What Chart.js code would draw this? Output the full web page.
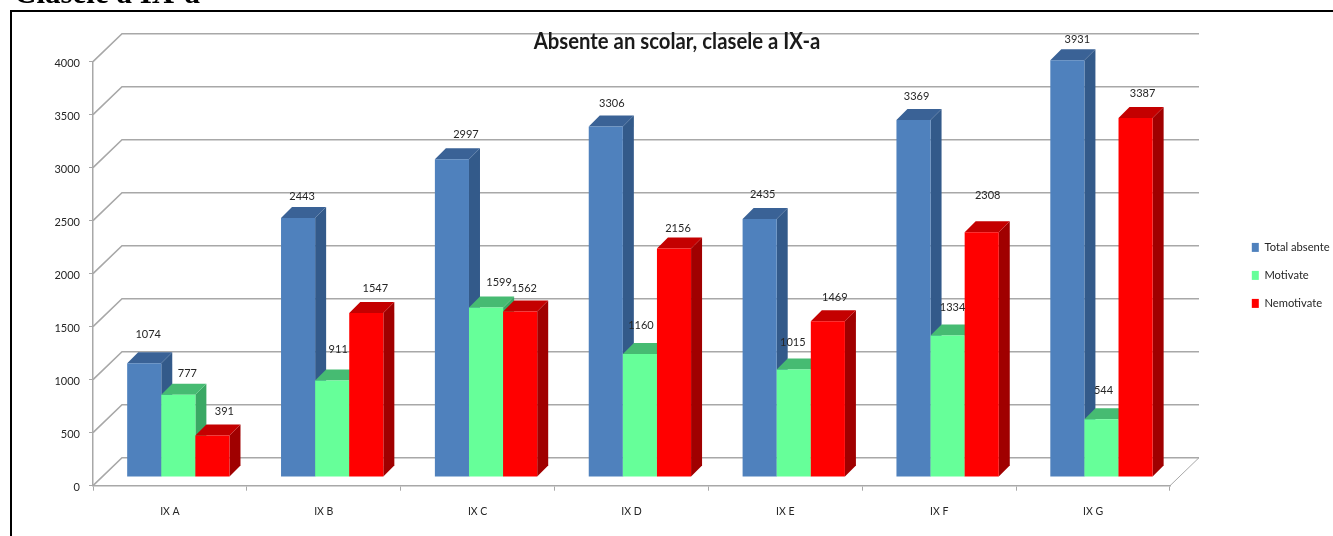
<!DOCTYPE html>
<html>
<head>
<meta charset="utf-8">
<title>Absente an scolar</title>
<script src="https://cdn.jsdelivr.net/npm/chart.js@4/dist/chart.umd.min.js"></script>
<style>
    html, body { margin: 0; padding: 0; background: #fff; overflow: hidden; }
    #page { position: relative; width: 1333px; height: 536px; overflow: hidden; }
    #heading {
        position: absolute; left: 14px; top: -25px; white-space: nowrap;
        font: bold 31px "Liberation Serif", serif; color: #000;
    }
    #frame { position: absolute; left: 10px; top: 10px; width: 1400px; height: 600px; border: 2px solid #000; }
    #chart { position: absolute; left: 0; top: 0; }
</style>
</head>
<body>
<div id="page">
    <canvas id="chart" width="1333" height="536"></canvas>
    <div id="frame"></div>
    <div id="heading">Clasele a IX-a</div>
</div>
<script>
// Values
const categories = ['IX A', 'IX B', 'IX C', 'IX D', 'IX E', 'IX F', 'IX G'];
const totalAbsente = [1074, 2443, 2997, 3306, 2435, 3369, 3931];
const motivate = [777, 911, 1599, 1160, 1015, 1334, 544];
const nemotivate = [391, 1547, 1562, 2156, 1469, 2308, 3387];
const yTicks = [0, 500, 1000, 1500, 2000, 2500, 3000, 3500, 4000];

// Hand placed value labels, relative to the top of each bar
const labelDx = [
    [4, 4, 14, 6, 3, 3, 10],
    [9, 6, 13, 1, -1, 5, 2],
    [12, 9, 4, 4, 7, 6, 7]
];
const labelDy = [
    [-29, -22, -25, -23, -24, -23, -21],
    [-21, -31, -25, -29, -27, -28, -29],
    [-24, -25, -23, -20, -24, -37, -25]
];

const FONT = 'Lato, sans-serif';
const TEXT = '#262626';
const GRID = '#a8a8a8';

// 3D look: bars stand a bit inside the floor, the wall is further back
const wallX = 29, wallY = 28;
const barShiftX = 8.4, barShiftY = 8.7;
const barDepth = 11;

// no narrow font installed, so the title is squeezed to the original width
const titleCenter = 677;
const titleSqueeze = 0.883;

const faces = [
    { front: '#4f81bd', side: '#335a8a', top: '#3a6296' },
    { front: '#66ff99', side: '#3aa864', top: '#46bb72' },
    { front: '#ff0000', side: '#a00000', top: '#c40000' }
];

function poly(ctx, color, pts) {
    ctx.fillStyle = color;
    ctx.beginPath();
    pts.forEach((p, i) => i ? ctx.lineTo(p[0], p[1]) : ctx.moveTo(p[0], p[1]));
    ctx.closePath();
    ctx.fill();
}

const depthPlugin = {
    id: 'depth',
    afterLayout(chart) {
        // legend sits right of the floor, title is centred over the plot and not the page
        const legend = chart.legend;
        legend.left = 1235; legend.right = 1333;
        legend.top = 225; legend.bottom = 345;

        const title = chart.titleBlock;
        const ctx = chart.ctx;
        const drawTitle = title.draw;
        title.left = titleCenter - 500;
        title.right = titleCenter + 500;
        title.draw = function () {
            ctx.save();
            ctx.translate(titleCenter, 0);
            ctx.scale(titleSqueeze, 1);
            ctx.translate(-titleCenter, 0);
            drawTitle.call(title);
            ctx.restore();
        };
    },
    beforeDraw(chart) {
        const { ctx, chartArea, scales } = chart;

        // wall and floor lines, behind the title and the bars
        ctx.save();
        ctx.strokeStyle = GRID;
        ctx.lineWidth = 1.6;
        yTicks.forEach(v => {
            const y = scales.y.getPixelForValue(v);
            ctx.beginPath();
            ctx.moveTo(chartArea.left, y);
            ctx.lineTo(chartArea.left + wallX, y - wallY);
            ctx.lineTo(chartArea.right + wallX, y - wallY);
            ctx.stroke();
        });
        ctx.lineWidth = 1;
        ctx.beginPath();
        ctx.moveTo(chartArea.right, chartArea.bottom);
        ctx.lineTo(chartArea.right + wallX, chartArea.bottom - wallY);
        ctx.stroke();
        ctx.restore();
    },
    beforeDatasetsDraw(chart) {
        const { ctx } = chart;

        // bars left to right so every bar covers the side of its left neighbour
        ctx.save();
        ctx.translate(barShiftX, -barShiftY);
        categories.forEach((c, i) => {
            chart.data.datasets.forEach((ds, d) => {
                const bar = chart.getDatasetMeta(d).data[i];
                const x0 = bar.x - bar.width / 2, x1 = bar.x + bar.width / 2;
                poly(ctx, faces[d].side, [[x1, bar.y], [x1 + barDepth, bar.y - barDepth],
                    [x1 + barDepth, bar.base - barDepth], [x1, bar.base]]);
                poly(ctx, faces[d].top, [[x0, bar.y], [x0 + barDepth, bar.y - barDepth],
                    [x1 + barDepth, bar.y - barDepth], [x1, bar.y]]);
                bar.draw(ctx);
            });
        });
        ctx.restore();
        return false;
    },
    afterDraw(chart) {
        const { ctx } = chart;
        ctx.save();
        ctx.font = '11px ' + FONT;
        ctx.fillStyle = TEXT;
        ctx.textAlign = 'center';
        ctx.textBaseline = 'middle';
        chart.data.datasets.forEach((ds, d) => {
            chart.getDatasetMeta(d).data.forEach((bar, i) => {
                ctx.fillText(ds.data[i], bar.x + barShiftX + labelDx[d][i], bar.y - barShiftY + labelDy[d][i]);
            });
        });
        ctx.restore();
    }
};

const chart = new Chart(document.getElementById('chart').getContext('2d'), {
    type: 'bar',
    data: {
        labels: categories,
        datasets: [
            { label: 'Total absente', data: totalAbsente, backgroundColor: faces[0].front },
            { label: 'Motivate', data: motivate, backgroundColor: faces[1].front },
            { label: 'Nemotivate', data: nemotivate, backgroundColor: faces[2].front }
        ]
    },
    options: {
        responsive: false,
        animation: false,
        layout: { padding: { left: 0, right: 163, top: 0, bottom: 0 } },
        datasets: { bar: { barPercentage: 1, categoryPercentage: 0.665 } },
        plugins: {
            tooltip: { enabled: false },
            title: {
                display: true,
                text: 'Absente an scolar, clasele a IX-a',
                color: '#1a1a1a',
                font: { family: FONT, size: 23, weight: 'bold', lineHeight: 1 },
                padding: { top: 30, bottom: 8.7 }
            },
            legend: {
                position: 'chartArea',
                align: 'start',
                labels: {
                    boxWidth: 7,
                    boxHeight: 9,
                    padding: 16.8,
                    color: TEXT,
                    font: { family: FONT, size: 11.2 }
                }
            }
        },
        scales: {
            x: {
                afterFit(scale) { scale.height = 50.3; },
                border: { color: GRID, width: 1.5 },
                grid: { drawOnChartArea: false, color: GRID, tickLength: 5 },
                ticks: { color: TEXT, padding: 15, font: { family: FONT, size: 10.5 } }
            },
            y: {
                min: 0,
                max: 4000,
                afterFit(scale) { scale.width = 93; },
                border: { color: GRID, width: 1.5 },
                grid: { drawOnChartArea: false, color: GRID, tickLength: 4 },
                ticks: {
                    color: TEXT,
                    padding: 9,
                    stepSize: 500,
                    labelOffset: 1.5,
                    callback: v => String(v),
                    font: { family: FONT, size: 11 }
                }
            }
        }
    },
    plugins: [depthPlugin]
});
</script>
</body>
</html>
